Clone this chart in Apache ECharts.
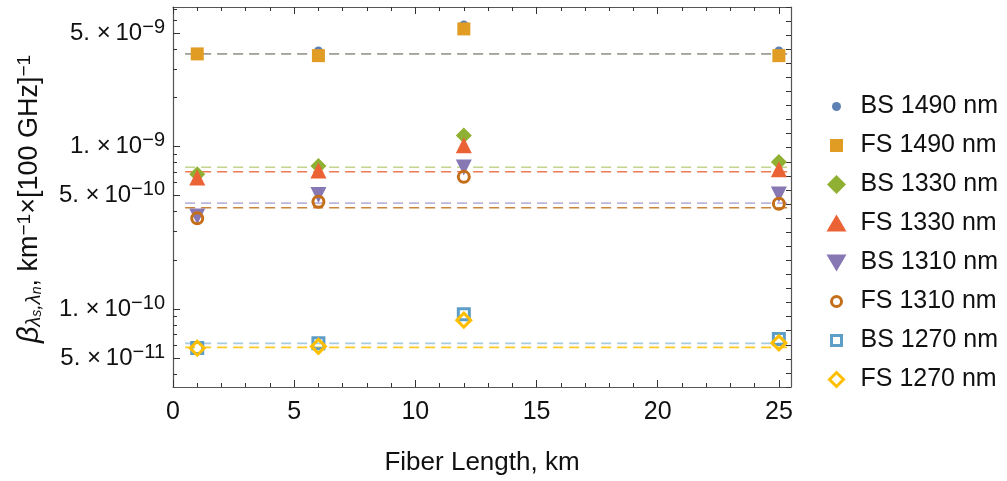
<!DOCTYPE html>
<html>
<head>
<meta charset="utf-8">
<script src="https://cdn.jsdelivr.net/npm/echarts@6/dist/echarts.min.js"></script>
<style>
  html, body { margin: 0; padding: 0; background: #fff; }
  #grafico { width: 1007px; height: 481px; }
</style>
</head>
<body>
<div id="grafico"></div>
<script>
// valores (comprimento da fibra em km)
const comprimentos = [1, 6, 12, 25];

const bs1490 = [3.72e-9, 3.88e-9, 5.6e-9, 3.88e-9];
const fs1490 = [3.72e-9, 3.63e-9, 5.3e-9, 3.63e-9];
const bs1330 = [6.76e-10, 7.59e-10, 1.17e-9, 8.04e-10];
const fs1330 = [6.45e-10, 7.13e-10, 1.02e-9, 7.27e-10];
const bs1310 = [3.72e-10, 5.04e-10, 7.43e-10, 5.08e-10];
const fs1310 = [3.62e-10, 4.58e-10, 6.52e-10, 4.45e-10];
const bs1270 = [5.77e-11, 6.16e-11, 9.31e-11, 6.55e-11];
const fs1270 = [5.75e-11, 5.9e-11, 8.56e-11, 6.2e-11];

const nomes = ['BS 1490 nm', 'FS 1490 nm', 'BS 1330 nm', 'FS 1330 nm',
               'BS 1310 nm', 'FS 1310 nm', 'BS 1270 nm', 'FS 1270 nm'];

// níveis das linhas tracejadas (mesma ordem dos nomes)
const niveis = [3.72e-9, 3.72e-9, 7.46e-10, 7.0e-10, 4.49e-10, 4.21e-10, 6.16e-11, 5.82e-11];
const linhaX = [0.5, 25.5];

// marcas dos eixos
const xTicksMaiores = [0, 5, 10, 15, 20, 25];
const xTicksMenores = [1, 2, 3, 4, 6, 7, 8, 9, 11, 12, 13, 14, 16, 17, 18, 19, 21, 22, 23, 24];
const yTicksMaiores = [5e-9, 1e-9, 5e-10, 1e-10, 5e-11];
const yTicksMenores = [7e-9, 6e-9, 4e-9, 3e-9, 2e-9, 9e-10, 8e-10, 7e-10, 6e-10,
                       4e-10, 3e-10, 2e-10, 9e-11, 8e-11, 7e-11, 6e-11, 4e-11];

const series = [bs1490, fs1490, bs1330, fs1330, bs1310, fs1310, bs1270, fs1270];

const cores = ['#5E81B5', '#E19C24', '#8FB032', '#EB6235', '#8778B3', '#C56E1A', '#5D9EC7', '#FFBF00'];
const opacLinhas = [0.55, 0.6, 0.55, 0.85, 0.55, 0.85, 0.55, 0.85];
const simbolos = [
  { symbol: 'circle', size: 9, oco: false, rot: 0 },
  { symbol: 'rect', size: 13, oco: false, rot: 0 },
  { symbol: 'diamond', size: 16, oco: false, rot: 0 },
  { symbol: 'triangle', size: 16, oco: false, rot: 0 },
  { symbol: 'triangle', size: 16, oco: false, rot: 180 },
  { symbol: 'circle', size: 11, oco: true, rot: 0 },
  { symbol: 'rect', size: 11, oco: true, rot: 0 },
  { symbol: 'diamond', size: 14, oco: true, rot: 0 }
];

// ícones da legenda (caixa de 20x20, o desenho fica no meio)
const iconesLegenda = [
  'path://M-10,-10M10,10M-4.5,0a4.5,4.5 0 1,0 9,0a4.5,4.5 0 1,0 -9,0Z',
  'path://M-10,-10M10,10M-6.5,-6.5L6.5,-6.5L6.5,6.5L-6.5,6.5Z',
  'path://M-10,-10M10,10M0,-9.5L9.5,0L0,9.5L-9.5,0Z',
  'path://M-10,-10M10,10M0,-9L10,8L-10,8Z',
  'path://M-10,-10M10,10M-10,-8L10,-8L0,9Z',
  'path://M-10,-10M10,10M-5,0a5,5 0 1,0 10,0a5,5 0 1,0 -10,0Z',
  'path://M-10,-10M10,10M-5,-5L5,-5L5,5L-5,5Z',
  'path://M-10,-10M10,10M0,-7L7,0L0,7L-7,0Z'
];

const fonte = "'Liberation Sans', Arial, sans-serif";
const corFrame = '#555';
const corTexto = '#111';

function rotuloY(v) {
  const e = Math.floor(Math.log10(v) + 1e-9);
  const m = Math.round(v / Math.pow(10, e));
  return '{b|' + m + '. \u00d7\u200910}{sup|\u2212' + (-e) + '}';
}

const grafico = echarts.init(document.getElementById('grafico'));

// FS primeiro, BS por cima (as de 1490 se misturam em cinza)
const ordemLinhas = [1, 0, 3, 2, 5, 4, 7, 6];
const linhas = ordemLinhas.map(i => ({
  name: nomes[i] + ' nivel',
  type: 'line',
  data: [[linhaX[0], niveis[i]], [linhaX[1], niveis[i]]],
  showSymbol: false,
  symbol: 'none',
  silent: true,
  z: 1,
  lineStyle: { color: cores[i], width: 1.6, type: [10, 6], opacity: opacLinhas[i] }
}));

const pontos = series.map((valores, i) => {
  const s = simbolos[i];
  return {
    name: nomes[i],
    type: 'scatter',
    z: 3,
    symbol: s.symbol,
    symbolSize: s.size,
    symbolRotate: s.rot,
    data: comprimentos.map((x, j) => [x, valores[j]]),
    itemStyle: s.oco
      ? { color: 'rgba(255,255,255,0)', borderColor: cores[i], borderWidth: 3, opacity: 1 }
      : { color: cores[i], opacity: 1 }
  };
});

const eixoX = (pos, mostraTexto) => ([
  {
    type: 'value', position: pos, min: 0, max: 25.5,
    axisLine: { show: true, onZero: false, lineStyle: { color: corFrame, width: 1.2 } },
    axisTick: { show: true, inside: true, length: 4, customValues: xTicksMenores, lineStyle: { color: '#333' } },
    axisLabel: mostraTexto
      ? { show: true, customValues: xTicksMaiores, fontSize: 25, fontFamily: fonte, color: corTexto, margin: 13 }
      : { show: false },
    splitLine: { show: false },
    name: mostraTexto ? 'Fiber Length, km' : '',
    nameLocation: 'middle',
    nameGap: 63,
    nameTextStyle: { fontSize: 26, fontFamily: fonte, color: corTexto }
  },
  {
    type: 'value', position: pos, min: 0, max: 25.5,
    axisLine: { show: false, onZero: false },
    axisTick: { show: true, inside: true, length: 7, customValues: xTicksMaiores, lineStyle: { color: '#333' } },
    axisLabel: { show: false },
    splitLine: { show: false }
  }
]);

const yMin = 3.32e-11;
const yMax = 7.23e-9;

const opcoes = {
  animation: false,
  backgroundColor: '#fff',
  grid: { left: 173, right: 216, top: 7, bottom: 93, containLabel: false },
  legend: {
    orient: 'vertical',
    left: 820,
    top: 89,
    itemWidth: 20,
    itemHeight: 20,
    itemGap: 14,
    selectedMode: false,
    textStyle: { fontSize: 25, fontFamily: fonte, color: corTexto, padding: [0, 0, 0, 9] },
    data: nomes.map((n, i) => ({
      name: n,
      icon: iconesLegenda[i],
      itemStyle: simbolos[i].oco
        ? { color: '#fff', borderColor: cores[i], borderWidth: 3 }
        : { color: cores[i], borderWidth: 0 }
    }))
  },
  xAxis: [...eixoX('bottom', true), ...eixoX('top', false)],
  yAxis: [
    {
      type: 'log', position: 'left', min: yMin, max: yMax,
      axisLine: { show: true, onZero: false, lineStyle: { color: corFrame, width: 1.2 } },
      axisTick: { show: true, inside: true, length: 4, customValues: yTicksMenores, lineStyle: { color: '#333' } },
      axisLabel: {
        show: true, customValues: yTicksMaiores, margin: 8, formatter: rotuloY,
        rich: {
          b: { fontSize: 24, fontFamily: fonte, color: corTexto },
          sup: { fontSize: 20, fontFamily: fonte, color: corTexto, verticalAlign: 'top', padding: [0, 0, 12, 0] }
        }
      },
      splitLine: { show: false },
      name: '{beta|\u03b2}{s|\u03bb}{ss|s}{s|,\u03bb}{ss|n}{t|, km}{sup|\u22121}{t|\u00d7[100 GHz]}{sup|\u22121}',
      nameLocation: 'middle',
      nameRotate: 90,
      nameGap: 129,
      nameTextStyle: {
        padding: [0, 4, 0, 0],
        rich: {
          beta: { fontSize: 29, fontStyle: 'italic', fontFamily: fonte, color: corTexto },
          s: { fontSize: 20, fontStyle: 'italic', fontFamily: fonte, color: corTexto, verticalAlign: 'bottom' },
          ss: { fontSize: 14, fontStyle: 'italic', fontFamily: fonte, color: corTexto, verticalAlign: 'bottom' },
          t: { fontSize: 27, fontFamily: fonte, color: corTexto },
          sup: { fontSize: 19, fontFamily: fonte, color: corTexto, verticalAlign: 'top' }
        }
      }
    },
    {
      type: 'log', position: 'left', min: yMin, max: yMax,
      axisLine: { show: false },
      axisTick: { show: true, inside: true, length: 7, customValues: yTicksMaiores, lineStyle: { color: '#333' } },
      axisLabel: { show: false },
      splitLine: { show: false }
    },
    {
      type: 'value', position: 'right', min: 0, max: 27, interval: 1,
      axisLine: { show: true, onZero: false, lineStyle: { color: corFrame, width: 1.2 } },
      axisTick: { show: true, inside: true, length: 5, lineStyle: { color: '#333' } },
      axisLabel: { show: false },
      splitLine: { show: false }
    }
  ],
  series: [...linhas, ...pontos]
};

grafico.setOption(opcoes);
</script>
</body>
</html>
